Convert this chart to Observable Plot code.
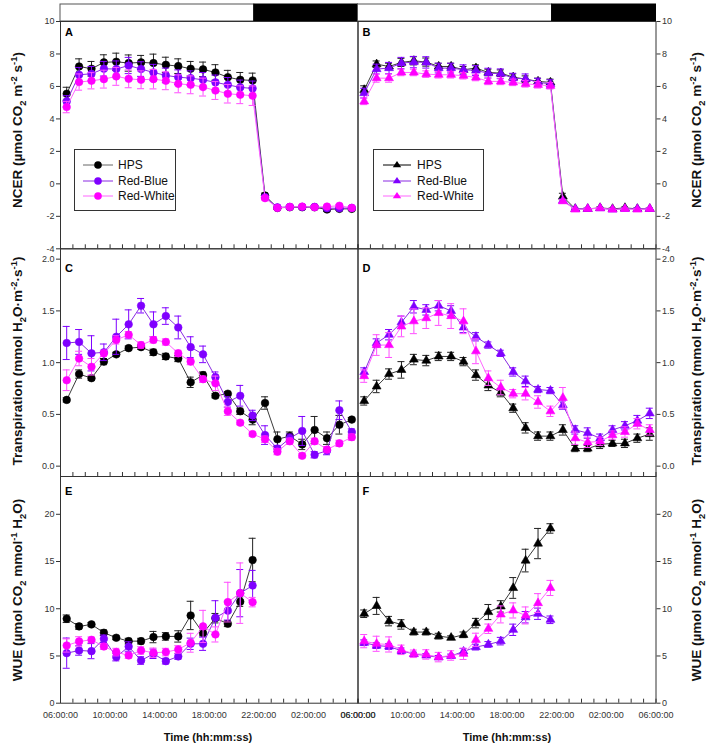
<!DOCTYPE html>
<html><head><meta charset="utf-8">
<script src="https://cdn.jsdelivr.net/npm/d3@7"></script>
<script src="https://cdn.jsdelivr.net/npm/@observablehq/plot@0.6"></script>
<style>
body{margin:0;background:#fff;font-family:"Liberation Sans",Arial,sans-serif;}
#fig{position:relative;width:708px;height:748px;overflow:hidden;background:#fff;}
.ytitle{position:absolute;transform:translate(-50%,-50%) rotate(-90deg);white-space:nowrap;font-weight:bold;font-size:13.5px;color:#111;line-height:1;}
.ytitle sub,.ytitle sup{font-size:0.7em;line-height:0;}
.xtitle{position:absolute;transform:translate(-50%,-50%);white-space:nowrap;font-weight:bold;font-size:11px;color:#111;}
.legend{position:absolute;border:1px solid #333;background:#fff;box-sizing:border-box;}
.legend .row{position:absolute;left:0;height:14px;width:100%;}
.legend svg{position:absolute;left:0;top:0;}
.legend span{position:absolute;font-size:12px;color:#111;line-height:14px;top:0;}
</style></head>
<body><div id="fig"></div>
<script>
// ---------- data ----------
const times = ["06:30","07:30","08:30","09:30","10:30","11:30","12:30","13:30","14:30","15:30","16:30","17:30",
               "18:30","19:30","20:30","21:30","22:30","23:30","00:30","01:30","02:30","03:30","04:30","05:30"];
const xTickLabels = ["06:00:00","10:00:00","14:00:00","18:00:00","22:00:00","02:00:00","06:00:00"];
const seriesNames = ["HPS","Red-Blue","Red-White"];
const lightsOn = "06:00", lightsOff = "21:38";

// Panel A – NCER, experiment 1 (circles)
const ncerHpsA = [5.55,7.23,7.09,7.48,7.52,7.44,7.48,7.44,7.33,7.25,7.09,7.05,6.86,6.57,6.41,6.37,-0.72,-1.48,-1.44,-1.44,-1.44,-1.58,-1.54,-1.54];
const ncerHpsAErr = [0.4,0.47,0.45,0.47,0.53,0.5,0.43,0.55,0.47,0.45,0.45,0.45,0.48,0.42,0.45,0.45,0.15,0.1,0.08,0.08,0.08,0.1,0.08,0.08];
const ncerRbA = [5.08,6.72,6.78,7.09,7.07,7.29,7.07,6.86,6.68,6.57,6.51,6.41,6.25,6.10,5.94,5.88,-0.82,-1.45,-1.42,-1.42,-1.42,-1.5,-1.5,-1.48];
const ncerRbAErr = [0.35,0.45,0.45,0.45,0.5,0.5,0.45,0.5,0.45,0.45,0.45,0.45,0.45,0.45,0.45,0.45,0.1,0.08,0.08,0.08,0.08,0.08,0.08,0.08];
const ncerRwA = [4.73,6.27,6.35,6.45,6.62,6.47,6.41,6.45,6.35,6.16,6.10,5.96,5.75,5.55,5.49,5.43,-0.88,-1.48,-1.42,-1.40,-1.44,-1.40,-1.35,-1.48];
const ncerRwAErr = [0.35,0.5,0.5,0.55,0.55,0.55,0.55,0.6,0.55,0.55,0.55,0.55,0.55,0.57,0.55,0.6,0.1,0.08,0.08,0.08,0.08,0.08,0.08,0.08];

// Panel B – NCER, experiment 2 (triangles)
const ncerHpsB = [5.79,7.37,7.23,7.48,7.58,7.50,7.23,7.23,7.03,7.13,6.86,6.82,6.57,6.45,6.31,6.25,-0.78,-1.54,-1.54,-1.48,-1.54,-1.48,-1.54,-1.54];
const ncerHpsBErr = [0.25,0.2,0.2,0.25,0.25,0.25,0.2,0.2,0.2,0.2,0.2,0.2,0.2,0.2,0.2,0.2,0.2,0.05,0.05,0.05,0.05,0.05,0.05,0.05];
const ncerRbB = [5.59,7.07,7.13,7.44,7.50,7.48,7.13,7.13,7.03,6.98,6.82,6.78,6.51,6.47,6.25,6.16,-1.03,-1.54,-1.54,-1.50,-1.58,-1.54,-1.54,-1.54];
const ncerRbBErr = [0.3,0.3,0.35,0.35,0.35,0.35,0.3,0.3,0.3,0.3,0.3,0.3,0.3,0.3,0.25,0.25,0.1,0.05,0.05,0.05,0.05,0.05,0.05,0.05];
const ncerRwB = [5.08,6.51,6.51,6.86,6.86,6.76,6.72,6.72,6.66,6.55,6.31,6.31,6.25,6.16,6.10,6.04,-1.07,-1.58,-1.54,-1.50,-1.58,-1.54,-1.58,-1.54];
const ncerRwBErr = [0.2,0.25,0.25,0.2,0.2,0.2,0.2,0.2,0.2,0.2,0.2,0.2,0.2,0.2,0.2,0.2,0.1,0.05,0.05,0.05,0.05,0.05,0.05,0.05];

// Panel C – Transpiration, experiment 1
const trHpsC = [0.64,0.89,0.85,1.01,1.08,1.14,1.15,1.10,1.06,1.04,0.81,0.88,0.68,0.70,0.53,0.45,0.61,0.26,0.29,0.21,0.35,0.27,0.40,0.45];
const trHpsCErr = [0.02,0.04,0.02,0.03,0.02,0.02,0.02,0.03,0.03,0.03,0.05,0.03,0.02,0.02,0.03,0.05,0.06,0.07,0.04,0.05,0.13,0.06,0.09,0.02];
const trRbC = [1.19,1.20,1.09,1.10,1.25,1.37,1.55,1.37,1.45,1.34,1.15,1.08,0.86,0.62,0.68,0.49,0.30,0.17,0.27,0.34,0.11,0.15,0.54,0.33];
const trRbCErr = [0.16,0.12,0.17,0.08,0.17,0.14,0.07,0.12,0.08,0.11,0.1,0.08,0.05,0.05,0.1,0.05,0.09,0.03,0.04,0.14,0.03,0.04,0.09,0.03];
const trRwC = [0.83,1.04,0.96,1.09,1.22,1.27,1.17,1.22,1.20,1.09,1.01,0.84,0.80,0.53,0.42,0.31,0.26,0.14,0.24,0.10,0.24,0.16,0.22,0.28];
const trRwCErr = [0.1,0.07,0.08,0.03,0.04,0.03,0.03,0.03,0.03,0.03,0.03,0.03,0.07,0.04,0.02,0.02,0.03,0.03,0.03,0.02,0.03,0.03,0.03,0.03];

// Panel D – Transpiration, experiment 2
const trHpsD = [0.63,0.77,0.89,0.93,1.03,1.02,1.06,1.06,1.01,0.88,0.78,0.71,0.56,0.37,0.29,0.29,0.35,0.17,0.17,0.21,0.22,0.22,0.27,0.31];
const trHpsDErr = [0.04,0.06,0.05,0.08,0.05,0.05,0.04,0.04,0.04,0.05,0.05,0.04,0.04,0.05,0.04,0.04,0.05,0.03,0.03,0.04,0.03,0.04,0.04,0.06];
const trRbD = [0.91,1.19,1.27,1.39,1.54,1.51,1.55,1.50,1.34,1.25,1.17,1.09,0.91,0.82,0.74,0.73,0.59,0.35,0.32,0.27,0.35,0.39,0.44,0.51];
const trRbDErr = [0.04,0.04,0.05,0.06,0.06,0.05,0.05,0.05,0.05,0.04,0.03,0.03,0.04,0.05,0.03,0.03,0.04,0.04,0.05,0.04,0.04,0.04,0.05,0.05];
const trRwD = [0.87,1.17,1.17,1.35,1.40,1.43,1.48,1.45,1.40,1.11,0.85,0.76,0.70,0.70,0.62,0.53,0.66,0.27,0.23,0.24,0.30,0.33,0.41,0.35];
const trRwDErr = [0.06,0.1,0.12,0.1,0.12,0.1,0.12,0.12,0.12,0.12,0.07,0.07,0.04,0.06,0.06,0.05,0.1,0.06,0.05,0.04,0.04,0.05,0.05,0.05];

// Panel E – WUE, experiment 1 (light period only)
const wueHpsE = [8.94,8.13,8.34,7.46,6.93,6.57,6.57,7.0,7.07,7.07,9.29,7.42,9.0,8.41,10.75,15.16];
const wueHpsEErr = [0.4,0.3,0.2,0.3,0.2,0.3,0.3,0.6,0.4,0.6,1.5,0.3,0.5,0.3,0.5,2.3];
const wueRbE = [5.3,5.58,5.51,6.82,4.88,6.0,4.52,5.23,4.45,4.95,6.29,6.29,9.05,9.8,11.65,12.46];
const wueRbEErr = [1.6,0.5,0.8,0.4,0.4,0.5,0.4,0.5,0.3,0.3,0.6,0.7,1.8,1.0,2.5,1.6];
const wueRwE = [6.11,6.54,6.71,6.0,5.41,5.05,5.58,5.34,5.41,5.69,6.40,8.13,7.28,10.7,11.65,10.7];
const wueRwEErr = [0.7,0.5,0.3,0.3,0.4,0.3,0.4,0.5,0.4,0.4,1.0,1.7,0.8,2.1,3.2,0.5];

// Panel F – WUE, experiment 2
const wueHpsF = [9.47,10.3,8.69,8.34,7.53,7.53,7.1,6.93,7.24,8.48,9.65,10.25,12.2,15.1,16.9,18.5];
const wueHpsFErr = [0.4,0.9,0.5,0.5,0.3,0.3,0.3,0.2,0.3,0.5,0.8,0.6,1.1,1.2,1.6,0.5];
const wueRbF = [6.4,6.1,6.0,5.55,5.2,5.05,4.85,5.0,5.48,5.94,6.22,6.57,7.77,9.1,9.47,8.83];
const wueRbFErr = [0.3,0.3,0.3,0.3,0.2,0.2,0.2,0.2,0.3,0.3,0.3,0.4,0.6,0.6,0.6,0.4];
const wueRwF = [6.57,6.29,6.22,5.65,5.23,5.16,4.88,5.05,5.23,6.71,7.88,9.4,9.82,9.29,10.6,12.2];
const wueRwFErr = [0.7,0.8,0.8,0.5,0.4,0.5,0.5,0.5,0.6,0.7,0.5,0.9,0.8,0.9,1.0,0.8];

// ---------- helpers ----------
const hr = (s, wrapEq) => { const [h, m] = s.split(":").map(Number); const v = h + m / 60; return (v < 6 || (wrapEq && v === 6)) ? v + 24 : v; };
const hours = times.map(s => hr(s));
const xTickPos = xTickLabels.map((s, i) => hr(s, i > 0));
const labelAt = new Map(xTickPos.map((p, i) => [p, xTickLabels[i]]));
const hourTicks = d3.range(6, 31);
const photoperiod = [
  {start: hr(lightsOn), end: hr(lightsOff), fill: "white", stroke: "#555"},
  {start: hr(lightsOff), end: hr(lightsOn, true), fill: "black", stroke: "#000"}
];
const colors = {
  "HPS": {dot: "#000000", line: "#3a3a3a", err: "#222222"},
  "Red-Blue": {dot: "#7f00ff", line: "#8a2be2", err: "#7f00ff"},
  "Red-White": {dot: "#ff00ff", line: "#ff66ff", err: "#ff4dff"}
};

const W = 708;
const rows = [
  {top: 0, height: 256, mt: 21, mb: 7.7, domain: [-4, 10], ticks: [-4,-2,0,2,4,6,8,10], fmt: d => String(d), letterDy: 6.7, bar: true},
  {top: 240, height: 245, mt: 8.3, mb: 9, domain: [-0.1, 2.1], ticks: [0,0.5,1,1.5,2], fmt: d => d.toFixed(1), letterDy: 15},
  {top: 468, height: 280, mt: 8, mb: 45.3, domain: [0, 24], ticks: [0,5,10,15,20], fmt: d => String(d), letterDy: 11, xlabels: true}
];
const cols = [
  {ml: 60, mr: W - 357.5, anchor: "left", symbol: "circle", r: 3.8},
  {ml: 357.5, mr: W - 655.5, anchor: "right", symbol: "triangle", r: 3.3}
];

const fig = document.getElementById("fig");

function panel(rowI, colI, letter, seriesList) {
  const R = rows[rowI], C = cols[colI];
  const plotH = R.height - R.mt - R.mb;
  const marks = [];
  if (R.bar) {
    photoperiod.forEach(p => marks.push(Plot.rect([p], {x1: "start", x2: "end", fill: p.fill, stroke: p.stroke, strokeWidth: 1, insetTop: -17, insetBottom: plotH})));
  }
  marks.push(Plot.tickX(hourTicks, {x: d => d, insetTop: plotH - 4, stroke: "#333", strokeWidth: 1}));
  seriesList.forEach(([name, vals, errs]) => {
    const c = colors[name];
    const data = vals.map((v, i) => ({t: hours[i], v, e: errs[i]}));
    marks.push(Plot.line(data, {x: "t", y: "v", stroke: c.line, strokeWidth: 1}));
    marks.push(Plot.ruleX(data, {x: "t", y1: d => d.v - d.e, y2: d => d.v + d.e, stroke: c.err, strokeWidth: 1}));
    marks.push(Plot.ruleY(data, {y: d => d.v + d.e, x1: "t", x2: "t", insetLeft: -3.5, insetRight: -3.5, stroke: c.err, strokeWidth: 1}));
    marks.push(Plot.ruleY(data, {y: d => d.v - d.e, x1: "t", x2: "t", insetLeft: -3.5, insetRight: -3.5, stroke: c.err, strokeWidth: 1}));
    marks.push(Plot.dot(data, {x: "t", y: "v", symbol: C.symbol, r: C.r, fill: c.dot, stroke: c.dot, strokeWidth: 0.6}));
  });
  marks.push(Plot.frame({stroke: "#333", strokeWidth: 1}));
  marks.push(Plot.axisY({anchor: C.anchor, ticks: R.ticks, tickFormat: R.fmt, tickSize: 4, tickPadding: 2, label: null, fontSize: 9}));
  if (R.xlabels) {
    marks.push(Plot.axisX({ticks: xTickPos, tickFormat: d => labelAt.get(d), tickSize: 0, tickPadding: 8, label: null, fontSize: 9}));
  }
  marks.push(Plot.text([letter], {frameAnchor: "top-left", text: d => d, dx: 4.5, dy: R.letterDy, lineAnchor: "top", textAnchor: "start", fontWeight: "bold", fontSize: 11, fill: "#000"}));
  const svg = Plot.plot({
    width: W, height: R.height,
    marginLeft: C.ml, marginRight: C.mr, marginTop: R.mt, marginBottom: R.mb,
    x: {type: "linear", domain: [6, 30], axis: R.xlabels ? undefined : null},
    y: {type: "linear", domain: R.domain},
    style: {background: "none", overflow: "visible", fontFamily: "'Liberation Sans', Arial, sans-serif", fontSize: "9px", color: "#333", position: "absolute", left: "0px", top: R.top + "px", maxWidth: "none"},
    marks
  });
  fig.appendChild(svg);
}

const S = seriesNames;
panel(0, 0, "A", [[S[0], ncerHpsA, ncerHpsAErr], [S[1], ncerRbA, ncerRbAErr], [S[2], ncerRwA, ncerRwAErr]]);
panel(1, 0, "C", [[S[0], trHpsC, trHpsCErr], [S[1], trRbC, trRbCErr], [S[2], trRwC, trRwCErr]]);
panel(2, 0, "E", [[S[0], wueHpsE, wueHpsEErr], [S[1], wueRbE, wueRbEErr], [S[2], wueRwE, wueRwEErr]]);
panel(0, 1, "B", [[S[0], ncerHpsB, ncerHpsBErr], [S[1], ncerRbB, ncerRbBErr], [S[2], ncerRwB, ncerRwBErr]]);
panel(1, 1, "D", [[S[0], trHpsD, trHpsDErr], [S[1], trRbD, trRbDErr], [S[2], trRwD, trRwDErr]]);
panel(2, 1, "F", [[S[0], wueHpsF, wueHpsFErr], [S[1], wueRbF, wueRbFErr], [S[2], wueRwF, wueRwFErr]]);

// ---------- titles ----------
function addTitle(cls, html, x, y) {
  const d = document.createElement("div");
  d.className = cls; d.innerHTML = html;
  d.style.left = x + "px"; d.style.top = y + "px";
  fig.appendChild(d);
}
const tNcer = "NCER (µmol CO<sub>2</sub> m<sup>-2</sup> s<sup>-1</sup>)";
const tTr = "Transpiration (mmol H<sub>2</sub>O·m<sup>-2</sup>·s<sup>-1</sup>)";
const tWue = "WUE (µmol CO<sub>2</sub> mmol<sup>-1</sup> H<sub>2</sub>O)";
[[tNcer, 130], [tTr, 361], [tWue, 590]].forEach(([t, y]) => { addTitle("ytitle", t, 18, y); addTitle("ytitle", t, 697, y); });
addTitle("xtitle", "Time (hh:mm:ss)", 208, 737);
addTitle("xtitle", "Time (hh:mm:ss)", 507, 737);

// ---------- legends ----------
function legend(left, top, width, marker, lineX1, lineX2, markX, textX, hpsLine) {
  const box = document.createElement("div");
  box.className = "legend";
  Object.assign(box.style, {left: left + "px", top: top + "px", width: width + "px", height: "62px"});
  seriesNames.forEach((name, i) => {
    const c = colors[name];
    const row = document.createElement("div");
    row.className = "row";
    row.style.top = (8 + i * 15.5) + "px";
    const lc = name === "HPS" ? hpsLine : c.line;
    let sym;
    if (marker === "circle") sym = `<circle cx="${markX}" cy="7" r="3.8" fill="${c.dot}"/>`;
    else sym = `<path d="M${markX},3 L${markX + 4.2},9.3 L${markX - 4.2},9.3 Z" fill="${c.dot}"/>`;
    row.innerHTML = `<svg width="${width}" height="14"><line x1="${lineX1}" x2="${lineX2}" y1="7" y2="7" stroke="${lc}" stroke-width="1"/>${sym}</svg><span style="left:${textX}px">${name}</span>`;
    box.appendChild(row);
  });
  fig.appendChild(box);
}
legend(74, 149, 102, "circle", 8, 38, 23, 43, "#666");
legend(373, 149, 111, "triangle", 9, 37, 23, 43, "#000");
</script>
</body></html>
